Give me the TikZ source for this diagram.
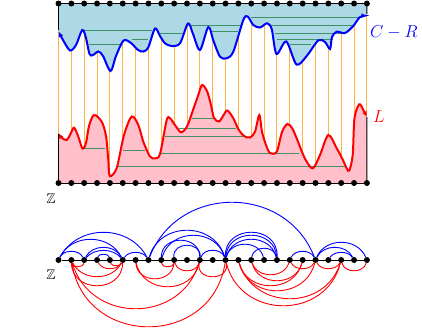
\documentclass[tikz,border=0pt]{standalone}
\usepackage{amssymb}
\usetikzlibrary{arrows.meta}
\definecolor{lb}{RGB}{173,216,230}
\definecolor{pk}{RGB}{255,192,203}
\definecolor{og}{RGB}{255,182,70}
\definecolor{gr}{RGB}{46,139,87}
\tikzset{
  dot/.style={circle, fill=black, inner sep=0pt, minimum size=6pt},
  oline/.style={draw=og, line width=1pt},
  gline/.style={draw=gr, line width=1pt, opacity=0.9},
  bcurve/.style={blue, line width=2pt},
  rcurve/.style={red, line width=2pt},
  edgeline/.style={black, line width=0.9pt},
  barc/.style={blue, line width=0.9pt},
  rarc/.style={red, line width=0.9pt},
  lab/.style={font=\fontsize{17}{20}\selectfont, inner sep=0pt},
  zlab/.style={font=\fontsize{14}{17}\selectfont, inner sep=0pt}
}
\newcommand\UA[3]{\pgfmathsetmacro\arcD{12.85*(#2-#1)}\pgfmathsetmacro\arcR{#3/\arcD}\pgfmathsetmacro\arcX{\arcD*(1-4*\arcR*\arcR)/3}\pgfmathsetmacro\arcY{4*#3/3}\draw[barc] (g#1) .. controls +(\arcX,-\arcY) and +(-\arcX,-\arcY) .. (g#2);}
\newcommand\DA[3]{\pgfmathsetmacro\arcD{12.85*(#2-#1)}\pgfmathsetmacro\arcR{#3/\arcD}\pgfmathsetmacro\arcX{\arcD*(1-4*\arcR*\arcR)/3}\pgfmathsetmacro\arcY{4*#3/3}\draw[rarc] (g#1) .. controls +(\arcX,\arcY) and +(-\arcX,\arcY) .. (g#2);}
\begin{document}
\begin{tikzpicture}[x=1pt,y=-1pt]
\useasboundingbox (0,0) rectangle (422,330);
\foreach \i in {0,...,24}{
  \coordinate (t\i) at ({58.5+12.85*\i},3.5);
  \coordinate (b\i) at ({58.5+12.85*\i},183);
}
% orange verticals
\foreach \i in {0,...,24}{ \draw[oline] (t\i) -- (b\i); }
% blue region
\fill[lb] (58.5,3.5) -- plot[smooth,tension=0.5] coordinates {(58.5,31.5) (63,40) (70,50.5) (76,45) (82.3,30) (86,38) (89.5,54) (93,55) (98.3,51.5) (103,56) (110.5,71) (116,56) (123.5,40.5) (131,43) (138,50) (143.3,51.5) (148.3,47.3) (155,28.5) (160,36) (165,43.3) (171.7,46) (180,43.3) (188,23.5) (193,34) (200,50) (208.3,27) (213.5,41) (220,56.7) (226.7,58.3) (233.3,51.7) (243.3,20) (247.7,16.5) (253.3,25) (260,27.5) (267,23.3) (271.7,29) (276.5,54) (286.3,41.5) (296.5,64.5) (306.7,56) (318.3,40.3) (325,42) (330,49) (332,37) (336.7,31.7) (345,33) (353.3,26) (360,17) (366.9,16)} -- (366.9,3.5) -- cycle;
% pink region
\fill[pk] (58.5,183) -- plot[smooth,tension=0.5] coordinates {(58.5,133) (62,138) (66.7,140) (70,135) (74,127.7) (78.3,136.7) (82.5,148.5) (86,143) (89,126) (94,115) (101.7,121.7) (106,136) (108.3,160) (109.8,176) (116.7,168) (124,135) (131.7,116.5) (138.3,125) (143.3,141.7) (150,156.5) (155,158.3) (160,154) (166.7,120) (170,118.3) (175,125) (181,132.3) (187,126.5) (193,110) (198.3,95) (202,85) (207,91) (211,105) (214,118) (219,121.5) (223,116) (227.3,110.5) (233.3,118.3) (238.3,129) (244,136) (250,137.5) (255,131.7) (259.3,115) (262,131.7) (266,145) (270,153) (276.7,151.7) (282,132) (287.3,124) (292,128) (296.7,138.3) (302,152) (306.7,161.7) (313,168.3) (320,155) (328.3,135) (336.7,148.3) (342,158) (346.7,168.3) (349.3,170.5) (352.7,155) (354.5,118) (359.3,104.3) (363.3,110) (366.9,117)} -- (366.9,183) -- cycle;
% green chords, top
\foreach \a/\b/\y in {84/152/30.7, 88.5/121/44.3, 131.7/148/39.3, 160/183/33.3, 189/242/25, 210/238/31, 251/362/17.3, 268/353/25.5, 275/345/33.5, 277/333/39.3, 290/311/44.3}
  { \draw[gline] (\a,\y) -- (\b,\y); }
% green chords, bottom
\foreach \a/\b/\y in {84/105/148, 123/145/150, 117/345/166.7, 161/299/153.3, 165/245/136.7, 179/236/128.3, 192/214/118.3}
  { \draw[gline] (\a,\y) -- (\b,\y); }
% curves
\draw[bcurve, {Latex[length=5.5pt,width=5pt]}-{Latex[length=5.5pt,width=5pt]}] plot[smooth,tension=0.5] coordinates {(58.5,31.5) (63,40) (70,50.5) (76,45) (82.3,30) (86,38) (89.5,54) (93,55) (98.3,51.5) (103,56) (110.5,71) (116,56) (123.5,40.5) (131,43) (138,50) (143.3,51.5) (148.3,47.3) (155,28.5) (160,36) (165,43.3) (171.7,46) (180,43.3) (188,23.5) (193,34) (200,50) (208.3,27) (213.5,41) (220,56.7) (226.7,58.3) (233.3,51.7) (243.3,20) (247.7,16.5) (253.3,25) (260,27.5) (267,23.3) (271.7,29) (276.5,54) (286.3,41.5) (296.5,64.5) (306.7,56) (318.3,40.3) (325,42) (330,49) (332,37) (336.7,31.7) (345,33) (353.3,26) (360,17) (366.9,16)};
\draw[rcurve, {Latex[length=5.5pt,width=5pt]}-{Latex[length=5.5pt,width=5pt]}] plot[smooth,tension=0.5] coordinates {(58.5,133) (62,138) (66.7,140) (70,135) (74,127.7) (78.3,136.7) (82.5,148.5) (86,143) (89,126) (94,115) (101.7,121.7) (106,136) (108.3,160) (109.8,176) (116.7,168) (124,135) (131.7,116.5) (138.3,125) (143.3,141.7) (150,156.5) (155,158.3) (160,154) (166.7,120) (170,118.3) (175,125) (181,132.3) (187,126.5) (193,110) (198.3,95) (202,85) (207,91) (211,105) (214,118) (219,121.5) (223,116) (227.3,110.5) (233.3,118.3) (238.3,129) (244,136) (250,137.5) (255,131.7) (259.3,115) (262,131.7) (266,145) (270,153) (276.7,151.7) (282,132) (287.3,124) (292,128) (296.7,138.3) (302,152) (306.7,161.7) (313,168.3) (320,155) (328.3,135) (336.7,148.3) (342,158) (346.7,168.3) (349.3,170.5) (352.7,155) (354.5,118) (359.3,104.3) (363.3,110) (366.9,117)};
% black frame pieces
\draw[edgeline] (t0) -- (t24);
\draw[edgeline] (b0) -- (b24);
\draw[edgeline] (t0) -- (58.5,30);
\draw[edgeline] (t24) -- (366.9,14);
\draw[edgeline] (b0) -- (58.5,134);
\draw[edgeline] (b24) -- (366.9,117);
\foreach \i in {0,...,24}{
  \node[dot] (dt\i) at (t\i) {};
  \node[dot] (db\i) at (b\i) {};
}
% labels
\node[lab, text=blue, anchor=west] (cr) at (370,32) {$C-R$};
\node[lab, text=red, anchor=west] (ll) at (373,117) {$L$};
\node[zlab] (z1) at (51,198.5) {$\mathbb{Z}$};
\node[zlab] (z2) at (51,275) {$\mathbb{Z}$};
% bottom graph
\foreach \i in {0,...,24}{ \node[dot] (g\i) at ({58.5+12.85*\i},260) {}; }
\draw[edgeline] (g0) -- (g24);
\UA{0}{7}{27}
\UA{0}{5}{20}
\UA{0}{2}{8}
\UA{2}{5}{12}
\UA{2}{5}{9}
\UA{3}{4}{5}
\UA{5}{7}{7}
\UA{7}{20}{57}
\UA{7}{13}{29}
\UA{8}{13}{24}
\UA{8}{11}{19}
\UA{9}{11}{14}
\UA{11}{13}{9}
\UA{13}{17}{27}
\UA{13}{17}{24}
\UA{13}{17}{20}
\UA{13}{16}{15}
\UA{15}{17}{11}
\UA{18}{20}{8}
\UA{20}{24}{17}
\UA{20}{23}{12}
\UA{21}{23}{7}
\DA{1}{2}{6}
\DA{1}{5}{16}
\DA{1}{5}{25}
\DA{3}{5}{8}
\DA{4}{5}{5}
\DA{1}{11}{48}
\DA{1}{13}{66}
\DA{6}{11}{26}
\DA{6}{9}{18}
\DA{8}{9}{6}
\DA{9}{11}{10}
\DA{11}{13}{16}
\DA{13}{22}{45}
\DA{14}{22}{38}
\DA{14}{20}{30}
\DA{14}{19}{25}
\DA{15}{19}{20}
\DA{15}{18}{14}
\DA{18}{20}{8}
\DA{20}{22}{8}
\DA{22}{24}{10}
\end{tikzpicture}
\end{document}
